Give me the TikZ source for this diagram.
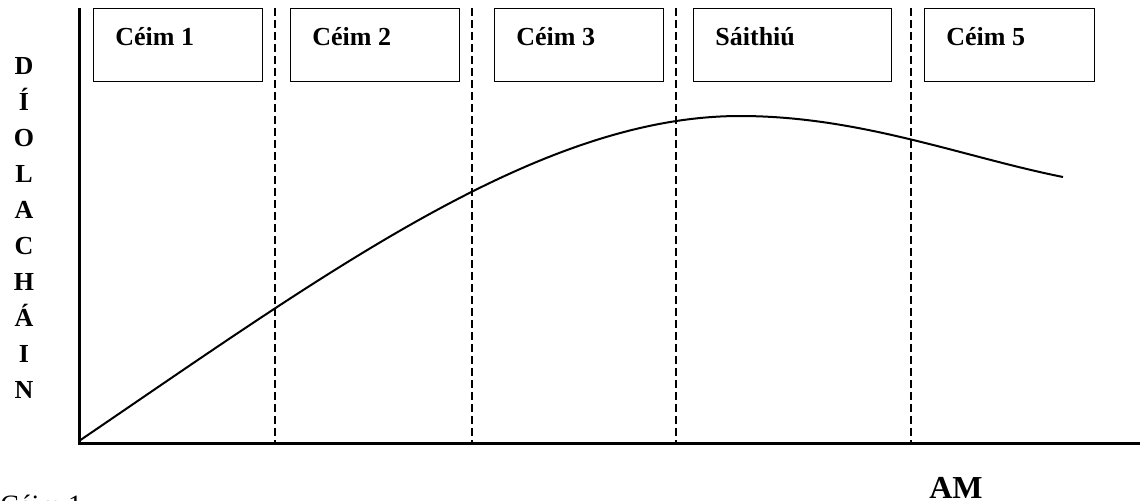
\documentclass[tikz,border=0pt]{standalone}
\usepackage{fontspec}
\setmainfont{Liberation Serif}
\begin{document}
\begin{tikzpicture}[
        x=0.5pt, y=-0.5pt,
        stagebox/.style={draw, line width=0.7pt, minimum height=36.5pt, anchor=north west, inner sep=0pt},
        stagetext/.style={anchor=base west, inner sep=0pt, font=\fontsize{13}{15}\selectfont\bfseries},
        divider/.style={line width=0.7pt, dash pattern=on 3.75pt off 2.25pt},
        axis/.style={line width=1.5pt, line join=miter}
    ]
    \useasboundingbox (0,0) rectangle (1140,500);
    % stage boxes
    \node[stagebox, minimum width=84.5pt] (c1) at (93,8) {};
    \node[stagebox, minimum width=84.5pt] (c2) at (290,8) {};
    \node[stagebox, minimum width=84.5pt] (c3) at (494,8) {};
    \node[stagebox, minimum width=99pt] (sat) at (693,8) {};
    \node[stagebox, minimum width=85pt] (c5) at (924,8) {};
    \node[stagetext] at ([xshift=11pt, yshift=-18.5pt]c1.north west) {Céim 1};
    \node[stagetext] at ([xshift=11pt, yshift=-18.5pt]c2.north west) {Céim 2};
    \node[stagetext] at ([xshift=11pt, yshift=-18.5pt]c3.north west) {Céim 3};
    \node[stagetext] at ([xshift=11pt, yshift=-18.5pt]sat.north west) {Sáithiú};
    \node[stagetext] at ([xshift=11pt, yshift=-18.5pt]c5.north west) {Céim 5};
    % dividers
    \foreach \x in {275,472,676,911}
        \draw[divider] (\x,8) -- (\x,443);
    % axes
    \coordinate (o) at (79,443);
    \draw[axis] (79,8) -- (o) -- (1140,443);
    \foreach \l [count=\i] in {D,Í,O,L,A,C,H,Á,I,N}
        \node[stagetext, anchor=base] at (24,38+36*\i) {\l};
    \node[anchor=base, inner sep=0pt, font=\fontsize{16}{18}\selectfont\bfseries] (am) at (956,498) {AM};
    \node[anchor=base west, inner sep=0pt, font=\fontsize{14}{16}\selectfont] (note) at (0,514) {Céim 1};
    % sales curve
    \coordinate (start) at (79,441);
    \coordinate (peak) at (740,116);
    \coordinate (end) at (1063,177);
    \draw[line width=1pt] (start) .. controls (329,271) and (540,116) .. (peak)
        .. controls (860,116) and (963,157) .. (end);
\end{tikzpicture}
\end{document}
